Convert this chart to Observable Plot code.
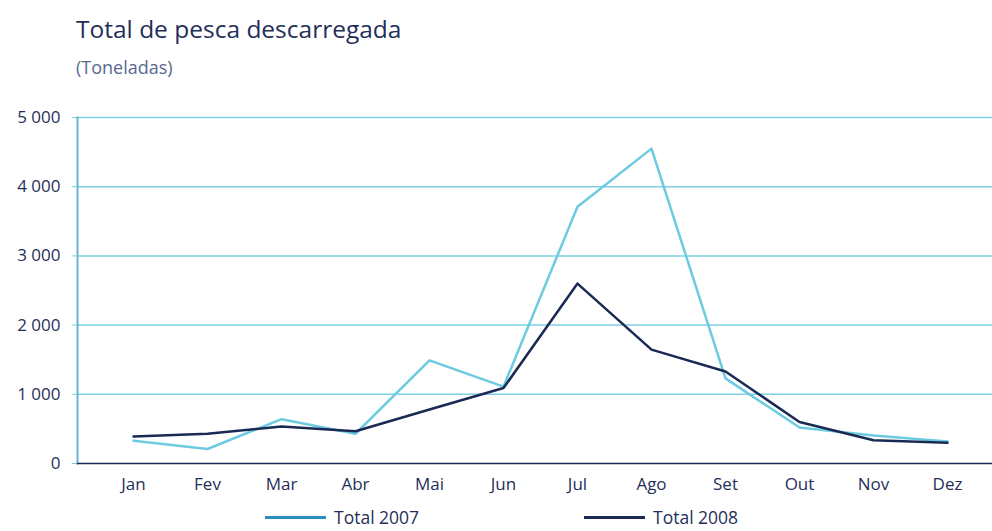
<!DOCTYPE html>
<html><head><meta charset="utf-8">
<script src="https://cdn.jsdelivr.net/npm/d3@7"></script>
<script src="https://cdn.jsdelivr.net/npm/@observablehq/plot@0.6"></script>
<style>
html,body{margin:0;padding:0;background:#fff;width:992px;height:531px;overflow:hidden;font-family:"Open Sans",sans-serif;}
#title{position:absolute;left:76px;top:12px;font-size:24.5px;color:#1f2f5a;}
#sub{position:absolute;left:76px;top:55px;font-size:18px;color:#5a6890;}
#chart{position:absolute;left:0;top:100px;}
.leg{position:absolute;top:506px;height:22px;line-height:22px;font-size:17.5px;color:#1f2f5a;display:flex;align-items:center;}
.leg span.sw{display:inline-block;width:61px;height:3px;margin-right:8px;}
</style></head><body>
<div id="title">Total de pesca descarregada</div>
<div id="sub">(Toneladas)</div>
<div id="chart"></div>
<div class="leg" style="left:265px"><span class="sw" style="background:#2a8fc0"></span>Total 2007</div>
<div class="leg" style="left:584px"><span class="sw" style="background:#1b2a55"></span>Total 2008</div>
<script>
const months = ["Jan","Fev","Mar","Abr","Mai","Jun","Jul","Ago","Set","Out","Nov","Dez"];
const total2007 = [330, 210, 640, 430, 1490, 1110, 3710, 4550, 1230, 520, 405, 318];
const total2008 = [390, 430, 535, 467, 780, 1090, 2600, 1645, 1330, 600, 335, 300];
const yTicks = [0, 1000, 2000, 3000, 4000, 5000];

const data = [
  ...months.map((m,i)=>({month:m, value:total2007[i], series:"Total 2007"})),
  ...months.map((m,i)=>({month:m, value:total2008[i], series:"Total 2008"}))
];
const fmtSp = d => d3.format(",")(d).replace(/,/g, " ");

const chart = Plot.plot({
  width: 992, height: 400,
  marginLeft: 77, marginRight: 0, marginTop: 17, marginBottom: 37,
  style: {fontFamily: "Open Sans, sans-serif", fontSize: "17px", color: "#1f2f5a", background: "transparent"},
  x: {type: "point", domain: months, padding: 0, insetLeft: 54, insetRight: 43, label: null},
  y: {domain: [0, 5000], label: null},
  marks: [
    Plot.ruleY(yTicks.filter(d => d > 0), {stroke: "#7dd0e2", strokeWidth: 1.5}),
    Plot.axisY({ticks: yTicks, tickSize: 5, tickPadding: 12, tickFormat: fmtSp, stroke: "#7dd0e2", fill: "#1f2f5a", fontSize: 17, label: null}),
    Plot.frame({anchor: "left", stroke: "#6ab4d6", strokeWidth: 2}),
    Plot.ruleY([0], {stroke: "#1b2a55", strokeWidth: 1.5}),
    Plot.axisX({tickSize: 0, tickPadding: 14, fill: "#1f2f5a", fontSize: 17, label: null}),
    Plot.line(data.filter(d => d.series === "Total 2007"), {x: "month", y: "value", stroke: "#6ccbe0", strokeWidth: 2.5}),
    Plot.line(data.filter(d => d.series === "Total 2008"), {x: "month", y: "value", stroke: "#1b2a55", strokeWidth: 2.5})
  ]
});
document.getElementById("chart").appendChild(chart);
</script>
</body></html>
